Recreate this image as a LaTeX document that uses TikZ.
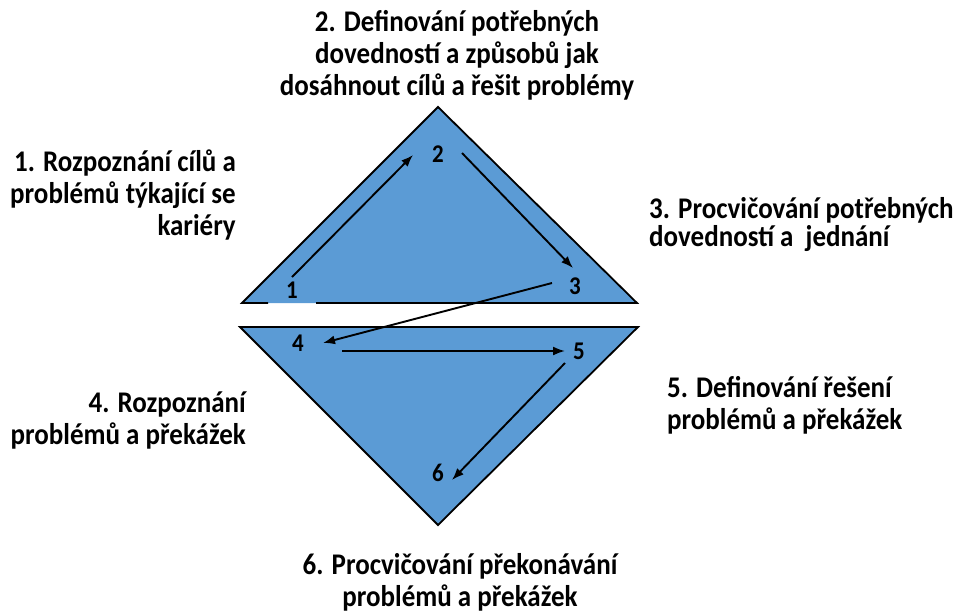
\documentclass[tikz,border=0pt]{standalone}
\usepackage{fontspec}
\setmainfont{Carlito}[FakeStretch=0.9]
\usetikzlibrary{arrows.meta,calc}
\definecolor{triblue}{HTML}{5B9BD5}
\tikzset{
  lab/.style={font=\fontsize{30}{32}\selectfont\bfseries, inner sep=0pt},
  num/.style={font=\fontsize{25.5}{28}\selectfont\bfseries, inner sep=0pt},
  arr/.style={line width=1.9pt, -{Latex[length=12pt,width=9pt]}},
  edge/.style={line width=1.8pt, line join=miter},
}
\begin{document}
\begin{tikzpicture}[x=1pt,y=-1pt]
\useasboundingbox (0,0) rectangle (954,614);
% triangles
\fill[triblue] (242,303) -- (438,107) -- (637,303) -- cycle;
\draw[edge] (268,303) -- (242,303) -- (438,107) -- (637,303) -- (316,303);
\fill[triblue] (240,327) -- (638,327) -- (438,525) -- cycle;
\draw[edge] (240,327) -- (638,327) -- (438,525) -- cycle;
% numbers
\node[num] (n1) at (292,290) {1};
\node[num] (n2) at (438,154) {2};
\node[num] (n3) at (575,286) {3};
\node[num] (n4) at (298,343) {4};
\node[num] (n5) at (579,351) {5};
\node[num] (n6) at (438,473) {6};
% arrows
\draw[arr] ($(n1)+(0,-13)$) -- ($(n2)+(-25,1)$);
\draw[arr] ($(n2)+(24,-1)$) -- ($(n3)+(-2,-18)$);
\draw[arr] ($(n3)+(-23,-3)$) -- ($(n4)+(25,0)$);
\draw[arr] ($(n4)+(44,8)$) -- ($(n5)+(-14,0)$);
\draw[arr] ($(n5)+(-14,12)$) -- ($(n6)+(14,7)$);
% labels (anchor=base is the baseline of the last line)
\node[lab, align=center, anchor=base] (t2) at (457,95) {2. Definování potřebných\\dovedností a způsobů jak\\dosáhnout cílů a řešit problémy};
\node[lab, align=right, anchor=base east] (t1) at (236,235) {1. Rozpoznání cílů a\\problémů týkající se\\kariéry};
\node[lab, align=left, anchor=base west, font=\fontsize{30}{28}\selectfont\bfseries] (t3) at (649,246) {3. Procvičování potřebných\\dovedností a ~jednání};
\node[lab, align=right, anchor=base east] (t4) at (246,444) {4. Rozpoznání\\problémů a překážek};
\node[lab, align=left, anchor=base west] (t5) at (667,429) {5. Definování řešení\\problémů a překážek};
\node[lab, align=center, anchor=base] (t6) at (460,606) {6. Procvičování překonávání\\problémů a překážek};
\end{tikzpicture}
\end{document}
